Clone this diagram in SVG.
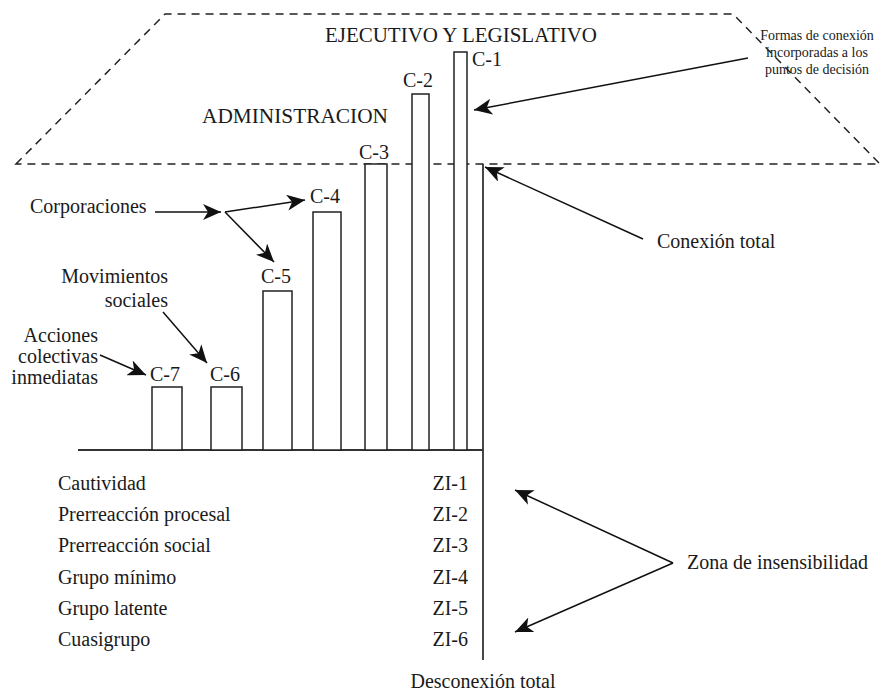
<svg xmlns="http://www.w3.org/2000/svg" width="883" height="691" viewBox="0 0 883 691">
<style>
text{font-family:"Liberation Serif","Times New Roman",serif;fill:#1a1a1a;font-size:20px}
.small{font-size:14px}
.head{font-size:21px}
.bar{fill:#fff;stroke:#222;stroke-width:1.5}
.dash{fill:none;stroke:#222;stroke-width:1.5;stroke-dasharray:8 6}
.conn line{stroke:#111;stroke-width:1.5;marker-end:url(#ah)}
.axis{stroke:#333;stroke-width:1.8}
</style>
<defs>
<marker id="ah" markerUnits="userSpaceOnUse" markerWidth="20" markerHeight="16" refX="18" refY="8" orient="auto">
<path d="M0,0 L18,8 L0,16 L5,8 Z" fill="#111"/>
</marker>
</defs>
<rect width="883" height="691" fill="#fff"/>
<g id="zones">
<polygon class="dash" points="16,164 165,14 733,14 880,164"/>
<text class="head" x="325" y="42" id="ejecutivo" textLength="272" lengthAdjust="spacingAndGlyphs">EJECUTIVO Y LEGISLATIVO</text>
<text class="head" x="202" y="123" id="administracion" textLength="186" lengthAdjust="spacingAndGlyphs">ADMINISTRACION</text>
</g>
<g id="axes">
<line class="axis" x1="78" y1="450" x2="483" y2="450"/>
<line class="axis" x1="483" y1="164" x2="483" y2="660"/>
</g>
<g id="c1"><rect class="bar" x="454" y="52" width="13" height="398"/><text x="472" y="66">C-1</text></g>
<g id="c2"><rect class="bar" x="412" y="94" width="17" height="356"/><text x="418" y="87" text-anchor="middle">C-2</text></g>
<g id="c3"><rect class="bar" x="365" y="164" width="22" height="286"/><text x="374" y="159" text-anchor="middle">C-3</text></g>
<g id="c4"><rect class="bar" x="313" y="212" width="28" height="238"/><text x="325" y="203" text-anchor="middle">C-4</text></g>
<g id="c5"><rect class="bar" x="263" y="291" width="29" height="159"/><text x="276" y="283" text-anchor="middle">C-5</text></g>
<g id="c6"><rect class="bar" x="211" y="387" width="31" height="63"/><text x="225" y="381" text-anchor="middle">C-6</text></g>
<g id="c7"><rect class="bar" x="152" y="387" width="30" height="63"/><text x="165" y="381" text-anchor="middle">C-7</text></g>
<g id="formas"><text class="small" text-anchor="middle"><tspan x="817" y="40">Formas de conexión</tspan><tspan x="817" y="57">incorporadas a los</tspan><tspan x="817" y="74">puntos de decisión</tspan></text></g>
<g id="conexion-total"><text x="657" y="248">Conexión total</text></g>
<g id="corporaciones"><text x="30" y="213">Corporaciones</text></g>
<g id="movimientos"><text text-anchor="end"><tspan x="168" y="283">Movimientos</tspan><tspan x="168" y="307">sociales</tspan></text></g>
<g id="acciones"><text text-anchor="end"><tspan x="98" y="342">Acciones</tspan><tspan x="98" y="363">colectivas</tspan><tspan x="98" y="384">inmediatas</tspan></text></g>
<g id="niveles">
<text x="58" y="490">Cautividad</text>
<text x="58" y="521">Prerreacción procesal</text>
<text x="58" y="552">Prerreacción social</text>
<text x="58" y="584">Grupo mínimo</text>
<text x="58" y="615">Grupo latente</text>
<text x="58" y="646">Cuasigrupo</text>
</g>
<g id="zi" text-anchor="end">
<text x="468" y="490">ZI-1</text>
<text x="468" y="521">ZI-2</text>
<text x="468" y="552">ZI-3</text>
<text x="468" y="584">ZI-4</text>
<text x="468" y="615">ZI-5</text>
<text x="468" y="646">ZI-6</text>
</g>
<g id="zona"><text x="687" y="569">Zona de insensibilidad</text></g>
<g id="desconexion"><text x="483" y="688" text-anchor="middle">Desconexión total</text></g>
<g id="connectors" class="conn">
<line x1="748" y1="58" x2="474" y2="110"/>
<line x1="643" y1="239" x2="485" y2="167"/>
<line x1="155" y1="212" x2="221" y2="212"/>
<line x1="225" y1="212" x2="305" y2="200"/>
<line x1="225" y1="212" x2="274" y2="262"/>
<line x1="163" y1="312" x2="207" y2="363"/>
<line x1="100" y1="355" x2="146" y2="375"/>
<line x1="673" y1="563" x2="515" y2="490"/>
<line x1="673" y1="563" x2="515" y2="632"/>
</g>
</svg>
